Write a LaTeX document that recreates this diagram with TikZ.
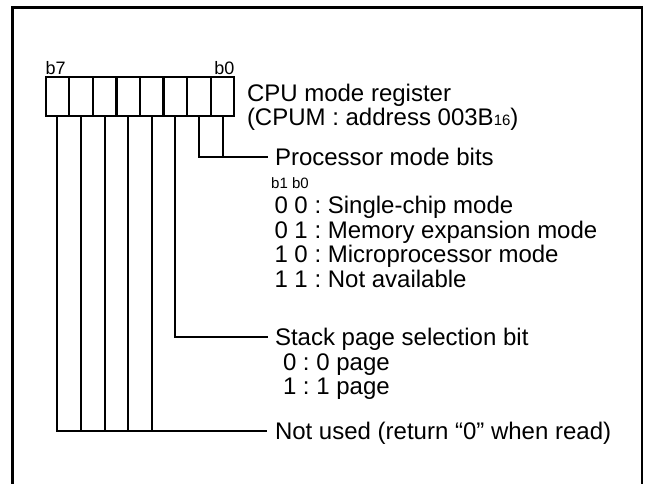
\documentclass[tikz,border=0pt]{standalone}
\usepackage{fontspec}
\setmainfont{Liberation Sans}
\frenchspacing
\begin{document}
\begin{tikzpicture}[x=1pt,y=-1pt,
  txt/.style={anchor=base west,inner sep=0pt,outer sep=0pt,font=\fontsize{24}{24}\selectfont},
  small/.style={inner sep=0pt,outer sep=0pt,font=\fontsize{18}{18}\selectfont},
  cell/.style={draw,line width=2.3pt,minimum width=23.575pt,minimum height=39pt,inner sep=0pt,outer sep=0pt},
  lead/.style={line width=2pt},
  frame/.style={line width=2.7pt}]
\useasboundingbox (0,0) rectangle (647,483);
% outer frame (open at the bottom)
\draw[frame] (12.5,495) -- (12.5,7.5) -- (642,7.5) -- (642,495);
% register cells
\foreach \i in {0,...,7}{
  \node[cell] (c\i) at ({45.7+(7-\i+0.5)*23.575},96.2) {};
}
\node[small,anchor=base west] (b7) at (45.7,74) {b7};
\node[small,anchor=base east] (b0) at (234.3,74) {b0};
\node[txt] (reg1) at (247,101.5) {CPU mode register};
\node[txt] (reg2) at (247,125.5) {(CPUM : address 003B{\fontsize{15}{15}\selectfont 16})};
% processor mode bits
\coordinate (pmend) at (268,156.7);
\draw[lead] (c1.south) |- (pmend);
\draw[lead] (c0.south) -- (c0.south |- pmend);
\node[txt] (pm) at (275,165) {Processor mode bits};
\node[anchor=base west,inner sep=0pt,font=\fontsize{15}{15}\selectfont] (b1b0) at (271,188.5) {b1 b0};
\node[txt] (m00) at (274.5,213.3) {0 0 : Single-chip mode};
\node[txt] (m01) at (274.5,238) {0 1 : Memory expansion mode};
\node[txt] (m10) at (274.5,262.7) {1 0 : Microprocessor mode};
\node[txt] (m11) at (274.5,287.4) {1 1 : Not available};
% stack page selection bit
\coordinate (spend) at (268,337);
\draw[lead] (c2.south) |- (spend);
\node[txt] (sp) at (275,345.3) {Stack page selection bit};
\node[txt] (p0) at (283,370) {0 : 0 page};
\node[txt] (p1) at (283,394.5) {1 : 1 page};
% not used
\coordinate (nuend) at (267,431);
\draw[lead] (c7.south) |- (nuend);
\foreach \i in {3,...,6}{
  \draw[lead] (c\i.south) -- (c\i.south |- nuend);
}
\node[txt] (nu) at (275,439.6) {Not used (return “0” when read)};
\end{tikzpicture}
\end{document}
